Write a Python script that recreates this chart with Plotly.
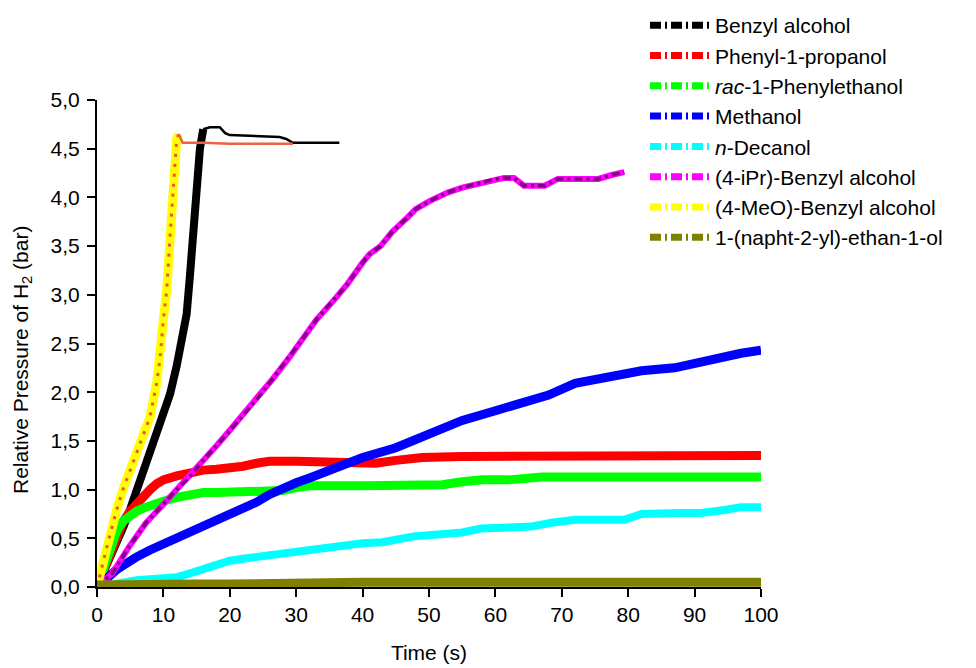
import plotly.graph_objects as go

# ---------------- data ----------------
benzyl_t = [0, 1, 2, 3, 4, 5, 6, 7, 8, 9, 10, 11, 12, 13, 13.5, 14, 14.5, 15, 15.5, 16,
            17, 18.5, 19.3, 20, 24, 27.5, 28.5, 29.5, 33, 36.5]
benzyl_p = [0, 0.15, 0.32, 0.47, 0.62, 0.8, 1.0, 1.22, 1.42, 1.6, 1.78, 1.98, 2.27, 2.6, 2.8,
            3.2, 3.65, 4.12, 4.5, 4.7, 4.72, 4.72, 4.66, 4.64, 4.63, 4.62, 4.6, 4.56, 4.56, 4.56]
benzyl_peak = 19  # index where the thin plateau part starts

phenylprop_t = [0, 1, 2, 3, 4, 5, 6, 7, 8, 9, 10, 12, 14, 16, 18, 20, 22, 24, 26, 30, 35, 40,
                42, 45, 49, 55, 60, 70, 80, 90, 100]
phenylprop_p = [0, 0.18, 0.36, 0.55, 0.68, 0.78, 0.86, 0.93, 1.0, 1.06, 1.1, 1.14, 1.18, 1.2,
                1.21, 1.22, 1.24, 1.27, 1.29, 1.29, 1.29, 1.28, 1.27, 1.3, 1.33, 1.34, 1.34,
                1.35, 1.35, 1.35, 1.35]

phenyleth_t = [0, 1, 2, 3, 4, 5, 6, 7, 8, 10, 12, 14, 16, 18, 22, 26, 28, 30, 32, 40, 48, 52,
               55, 58, 62, 65, 67, 75, 85, 100]
phenyleth_p = [0, 0.18, 0.38, 0.58, 0.68, 0.74, 0.78, 0.81, 0.84, 0.88, 0.92, 0.95, 0.97, 0.97,
               0.97, 0.98, 0.99, 1.02, 1.04, 1.04, 1.04, 1.05, 1.08, 1.1, 1.1, 1.11, 1.13, 1.13,
               1.13, 1.13]

methanol_t = [0, 1, 2, 3, 4, 5, 6, 8, 10, 12, 14, 16, 18, 20, 22, 24, 26, 28, 30, 32, 35, 40,
              45, 50, 55, 60, 65, 68, 72, 77, 82, 87, 92, 97, 100]
methanol_p = [0, 0.05, 0.12, 0.18, 0.23, 0.27, 0.31, 0.38, 0.44, 0.5, 0.56, 0.61, 0.67, 0.73,
              0.8, 0.87, 0.95, 1.02, 1.07, 1.12, 1.2, 1.33, 1.43, 1.58, 1.71, 1.81, 1.92, 1.97,
              2.09, 2.15, 2.22, 2.25, 2.33, 2.4, 2.43]

decanol_t = [0, 2, 4, 6, 8, 10, 12, 14, 16, 18, 20, 22, 24, 26, 29, 32, 34, 38, 40, 43, 47.7,
             55, 57.8, 62, 65.4, 68.4, 72, 79.4, 82, 88, 91, 94.5, 97, 100]
decanol_p = [0, 0.03, 0.06, 0.07, 0.08, 0.09, 0.1, 0.14, 0.19, 0.23, 0.27, 0.29, 0.31, 0.33,
             0.36, 0.38, 0.4, 0.44, 0.45, 0.46, 0.52, 0.56, 0.6, 0.61, 0.62, 0.66, 0.69, 0.69,
             0.75, 0.76, 0.76, 0.79, 0.82, 0.82]

ipr_t = [0, 2.3, 4.8, 7.4, 10, 12, 14, 16, 18, 20, 22, 24, 26.5, 29, 31, 33, 35.5, 37.7, 40,
         41.1, 42.7, 44.5, 46.7, 48, 50, 52.8, 55, 57.8, 59.5, 61.3, 62.8, 63.5, 64.3, 67.4,
         68.5, 69.4, 72, 75.5, 77.5, 79.4]
ipr_p = [0, 0.14, 0.41, 0.66, 0.85, 1.0, 1.13, 1.3, 1.45, 1.61, 1.77, 1.92, 2.14, 2.36, 2.55,
         2.74, 2.93, 3.11, 3.33, 3.42, 3.5, 3.65, 3.79, 3.88, 3.96, 4.05, 4.1, 4.15, 4.18, 4.2,
         4.2, 4.16, 4.12, 4.12, 4.16, 4.19, 4.19, 4.19, 4.23, 4.26]

meo_t = [0, 1, 2, 3, 4, 5, 6, 7, 8, 9, 9.5, 10, 10.5, 11, 11.5, 12, 12.3, 12.9, 16, 20, 25, 29.5]
meo_p = [0, 0.28, 0.55, 0.8, 1.02, 1.2, 1.38, 1.55, 1.75, 2.1, 2.35, 2.75, 3.05, 3.6, 4.15,
         4.6, 4.65, 4.56, 4.56, 4.55, 4.55, 4.55]
meo_peak = 16

napht_t = [0, 5, 10, 15, 20, 25, 30, 35, 40, 50, 60, 70, 80, 90, 100]
napht_p = [0.02, 0.03, 0.03, 0.03, 0.03, 0.04, 0.05, 0.05, 0.05, 0.05, 0.05, 0.05, 0.05, 0.05, 0.05]

names = ["Benzyl alcohol", "Phenyl-1-propanol", "<i>rac</i>-1-Phenylethanol", "Methanol",
         "<i>n</i>-Decanol", "(4-iPr)-Benzyl alcohol", "(4-MeO)-Benzyl alcohol",
         "1-(napht-2-yl)-ethan-1-ol"]
colors = ["#000000", "#ff0000", "#00ff00", "#0000ff", "#00ffff", "#ff00ff", "#ffff00", "#808000"]

FONT = "Liberation Sans, Arial, sans-serif"

fig = go.Figure()

def line(x, y, color, width, dash="solid"):
    fig.add_trace(go.Scatter(x=x, y=y, mode="lines", showlegend=False, hoverinfo="skip",
                             line=dict(color=color, width=width, dash=dash)))

# Benzyl alcohol: thick rise, thin plateau
line(benzyl_t[:benzyl_peak + 1], benzyl_p[:benzyl_peak + 1], colors[0], 8)
line(benzyl_t[benzyl_peak:], benzyl_p[benzyl_peak:], colors[0], 2.5)
line(phenylprop_t, phenylprop_p, colors[1], 9)
line(phenyleth_t, phenyleth_p, colors[2], 9)
line(methanol_t, methanol_p, colors[3], 9)
line(decanol_t, decanol_p, colors[4], 8)
line(ipr_t, ipr_p, colors[5], 6)
line(ipr_t, ipr_p, "#800080", 3.5, "8px,4px,3px,4px")
line(meo_t[:meo_peak + 1], meo_p[:meo_peak + 1], colors[6], 9)
line(meo_t[:meo_peak + 1], meo_p[:meo_peak + 1], "#f0503c", 3, "3px,7px")
line(meo_t[meo_peak:], meo_p[meo_peak:], "#f0603c", 2.5)
line(napht_t, napht_p, colors[7], 9)

# legend entries
for n, c in zip(names, colors):
    fig.add_trace(go.Scatter(x=[None], y=[None], mode="lines", name=n,
                             line=dict(color=c, width=7, dash="11px,4px,2px,4px")))

axis_common = dict(showline=True, linecolor="black", linewidth=2, ticks="outside",
                   ticklen=8, tickwidth=2, tickcolor="black", showgrid=False, zeroline=False,
                   tickfont=dict(family=FONT, size=21, color="black"), mirror=False,
                   automargin=False)

fig.update_layout(
    width=976, height=668,
    margin=dict(l=89, r=223, t=92, b=89, autoexpand=False),
    paper_bgcolor="white", plot_bgcolor="white",
    separators=", ",
    font=dict(family=FONT, color="black"),
    xaxis=dict(range=[0, 100], dtick=10, tick0=0,
               title=dict(text="Time (s)", font=dict(family=FONT, size=21, color="black"),
                          standoff=20),
               **axis_common),
    yaxis=dict(range=[0, 5], dtick=0.5, tick0=0, tickformat=".1f", ticklabelstandoff=3,
               **axis_common),
    annotations=[dict(text="Relative Pressure of H<sub>2</sub> (bar)", textangle=-90,
                      xref="paper", yref="paper", x=-0.113, y=0.466,
                      xanchor="center", yanchor="middle", showarrow=False,
                      font=dict(family=FONT, size=21, color="black"))],
    legend=dict(x=0.8253, xanchor="left", y=1.195, yanchor="top",
                font=dict(family=FONT, size=21, color="black"),
                bgcolor="rgba(0,0,0,0)", traceorder="normal", itemwidth=60),
)

fig.write_html("out.html")
